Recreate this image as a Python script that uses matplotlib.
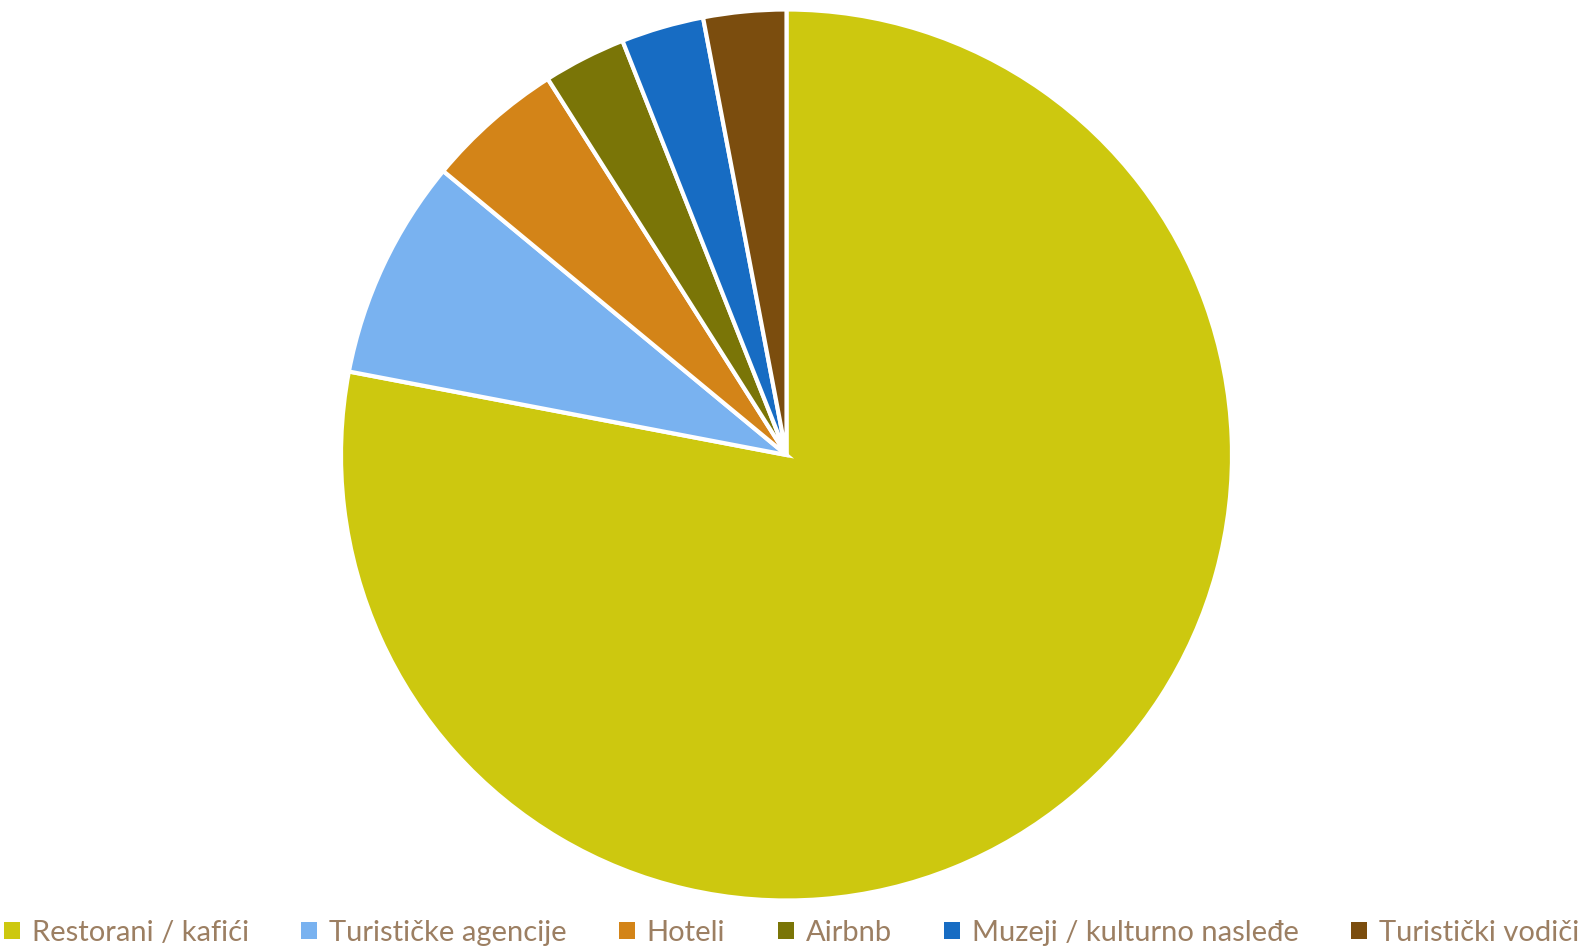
import matplotlib.pyplot as plt

labels = ['Restorani / kafići', 'Turističke agencije', 'Hoteli', 'Airbnb',
          'Muzeji / kulturno nasleđe', 'Turistički vodiči']
values = [78, 8, 5, 3, 3, 3]
colors = ['#CDC80F', '#79B2F0', '#D38418', '#7A7507', '#176CC3', '#7B4D0E']

fig = plt.figure(figsize=(15.83, 9.49), dpi=100)
cx, cy, r = 786.5, 455, 445.5
ax = fig.add_axes([(cx - r) / 1583, (949 - cy - r) / 949, 2 * r / 1583, 2 * r / 949])

wedges, _ = ax.pie(values, colors=colors, startangle=90, counterclock=False,
                   wedgeprops=dict(edgecolor='white', linewidth=3))
ax.set_xlim(-1, 1)
ax.set_ylim(-1, 1)
ax.set_aspect('equal')

leg = fig.legend(wedges, labels, loc='center', bbox_to_anchor=(0.5, 16 / 949),
                 ncol=6, frameon=False, handlelength=0.55, handleheight=0.55,
                 handletextpad=0.4, columnspacing=1.8,
                 prop=dict(family='Lato', size=21))
for t in leg.get_texts():
    t.set_color('#9C7F62')
for h in leg.legend_handles:
    h.set_linewidth(0)

fig.savefig('out.png', dpi=100)
